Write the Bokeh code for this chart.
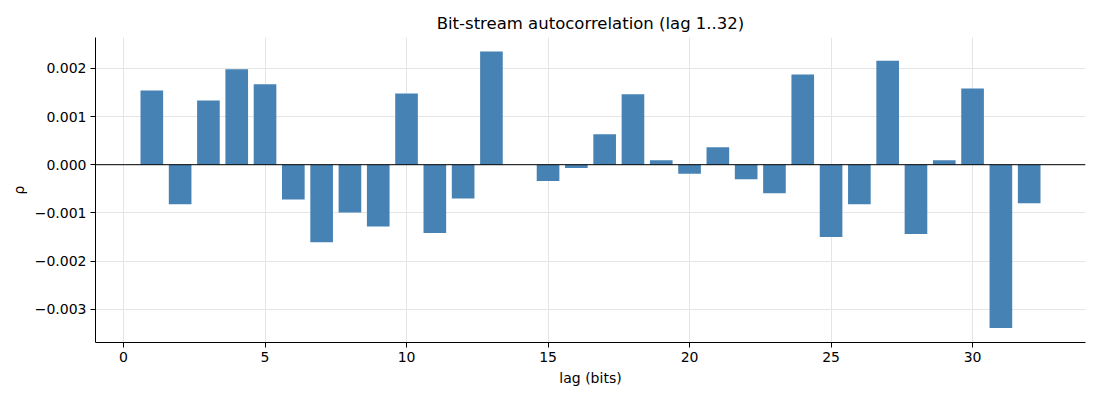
from bokeh.plotting import figure
from bokeh.models import ColumnDataSource, Span, FixedTicker, CustomJSTickFormatter, Range1d
from bokeh.embed import file_html
from bokeh.resources import INLINE

lags = list(range(1, 33))
rho = [0.00154, -0.00082, 0.00133, 0.00198, 0.00167, -0.00072, -0.00161, -0.00099,
       -0.00128, 0.00148, -0.00142, -0.00070, 0.00235, 0.0, -0.00034, -0.00007,
       0.00063, 0.00146, 0.00009, -0.00019, 0.00036, -0.00030, -0.00059, 0.00187,
       -0.00150, -0.00082, 0.00216, -0.00144, 0.00009, 0.00158, -0.00339, -0.00080]
x_ticks = [0, 5, 10, 15, 20, 25, 30]
y_ticks = [-0.003, -0.002, -0.001, 0.0, 0.001, 0.002]

font = "DejaVu Sans"
src = ColumnDataSource(data=dict(lag=lags, rho=rho))

p = figure(width=1092, height=392, output_backend="svg", toolbar_location=None,
           title="Bit-stream autocorrelation (lag 1..32)",
           x_range=Range1d(-0.99, 33.99), y_range=Range1d(-0.00369, 0.00264),
           min_border_left=95, min_border_right=7, min_border_top=37, min_border_bottom=50)

p.vbar(x="lag", top="rho", bottom=0, width=0.8, source=src,
       fill_color="#4682b4", line_color=None)

p.add_layout(Span(location=0, dimension="width", line_color="black", line_width=1))

p.title.align = "center"
p.title.text_font = font
p.title.text_font_size = "16.5px"
p.title.text_font_style = "normal"
p.title.text_color = "black"

p.xaxis.ticker = FixedTicker(ticks=x_ticks)
p.yaxis.ticker = FixedTicker(ticks=y_ticks)
p.yaxis.formatter = CustomJSTickFormatter(code="return tick.toFixed(3).replace('-', '\u2212');")
p.xaxis.axis_label = "lag (bits)"
p.yaxis.axis_label = "ρ"

for ax in (p.xaxis, p.yaxis):
    ax.axis_label_text_font = font
    ax.axis_label_text_font_size = "14px"
    ax.axis_label_text_font_style = "normal"
    ax.axis_label_text_color = "black"
    ax.major_label_text_font = font
    ax.major_label_text_font_size = "14px"
    ax.major_label_text_color = "black"
    ax.major_label_standoff = 4
    ax.axis_line_color = "black"
    ax.major_tick_line_color = "black"
    ax.major_tick_in = 0
    ax.major_tick_out = 5
    ax.minor_tick_line_color = None

p.grid.grid_line_color = "#e5e5e5"
p.grid.grid_line_width = 1
p.outline_line_color = None
p.background_fill_color = "white"

open("out.html", "w").write(file_html(p, INLINE))
